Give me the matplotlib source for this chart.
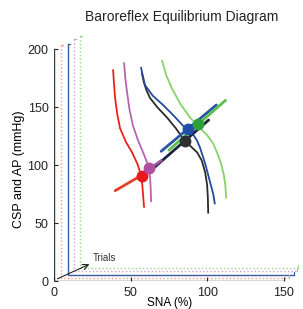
import matplotlib; matplotlib.use('Agg')
import numpy as np
import matplotlib.pyplot as plt

plt.rcParams['font.family'] = ['Liberation Sans', 'DejaVu Sans']

# trial order: black, red, blue, pink, green
trial_colors = ['#2b2b2b', '#e8231e', '#234a9c', '#b865b0', '#86d46a']
frame_styles = ['-', ':', '-', ':', ':']
frame_colors = ['#3a3a3a', '#f0a080', '#3a5aa0', '#d0a0d0', '#9ad888']
frame_dx = [0, 4.6, 9.2, 13.1, 17.0]
frame_dy = [0, 2.6, 5.2, 8.6, 11.2]
frame_top = [200, 203.4, 205, 208.6, 211.2]
frame_right = [150, 153.3, 156.5, 158.5, 159.5]

# baroreflex curves (SNA, CSP)
red_x = [38.6, 39.2, 39.9, 41.2, 43.1, 47.0, 51.0, 54.5, 56.2, 57.6, 58.2, 58.8]
red_y = [182, 170, 158, 145, 132, 120, 111, 101, 94, 84, 74, 64]
pink_x = [45.8, 46.5, 47.7, 49.3, 51.6, 55.0, 58.2, 60.6, 62.1, 62.8, 63.2, 63.4]
pink_y = [188, 176, 163, 148, 134, 121, 111, 103, 96, 88, 78, 69]
black_x = [57.5, 58.6, 60.3, 62.7, 67.5, 73.9, 79.5, 84.3, 89.5, 93.5, 96.5, 98.7, 100.0, 100.5, 100.7]
black_y = [179, 172, 165, 158, 150, 141, 132, 123, 116, 111, 104, 94, 83, 71, 59]
blue_x = [56.9, 58.0, 59.5, 64.5, 71.2, 78.0, 84.3, 90.2, 93.5, 95.4, 98.8, 102.0, 104.0, 105.0]
blue_y = [184, 177, 169, 160, 152, 143, 134, 128, 121, 115, 101, 85, 75, 67]
green_x = [70.6, 73.5, 77.1, 82.5, 88.9, 94.5, 100.0, 103.8, 106.5, 109.2, 111.0, 112.0, 112.4]
green_y = [190, 177, 166, 153, 141, 133, 126, 119, 111, 101, 91, 81, 72]

# equilibrium points
eq_x = [85.6, 57.3, 87.8, 62.1, 93.9]
eq_y = [120.7, 90.8, 131.0, 97.2, 135.3]

# peripheral (SNA -> AP) lines: start and end
line_x0 = [62.0, 40.0, 70.0, 55.0, 75.0]
line_y0 = [94.0, 78.0, 112.0, 90.0, 113.0]
line_x1 = [101.0, 62.0, 106.0, 70.0, 112.0]
line_y1 = [139.0, 95.0, 152.0, 104.0, 156.0]

curves_x = [black_x, red_x, blue_x, pink_x, green_x]
curves_y = [black_y, red_y, blue_y, pink_y, green_y]
line_colors = ['#1c2540', '#e0402a', '#2a55a8', '#a05aa0', '#5cc048']
point_colors = ['#2e2e33', '#e41a1c', '#1f4ea8', '#b0509e', '#2e9e3a']

fig = plt.figure(figsize=(3.03, 3.09), dpi=100)
ax = fig.add_axes([54 / 303, 28 / 309, 245 / 303, 249 / 309])
ax.set_xlim(0, 160)
ax.set_ylim(0, 215)
for s in ['top', 'right', 'left', 'bottom']:
    ax.spines[s].set_visible(False)
ax.set_xticks([0, 50, 100, 150])
ax.set_yticks([0, 50, 100, 150, 200])
ax.tick_params(direction='in', length=3, labelsize=9, colors='#222222', pad=4)

# stacked frames, back to front
for i in range(4, -1, -1):
    dx, dy = frame_dx[i], frame_dy[i]
    ax.plot([dx, dx, frame_right[i]], [frame_top[i], dy, dy],
            color=frame_colors[i], ls=frame_styles[i], lw=1.0, zorder=1 + (4 - i) * 0.1)
    ax.plot([dx, dx + 1.5], [frame_top[i], frame_top[i]], color=frame_colors[i], lw=0.8)
    ax.plot([frame_right[i], frame_right[i]], [dy, dy + 2.5], color=frame_colors[i], lw=0.8)

ax.annotate('', xy=(24.8, 15.5), xytext=(0.6, 0.9),
            arrowprops=dict(arrowstyle='->', color='#222222', lw=0.8))
ax.text(25.5, 17.5, 'Trials', fontsize=7, color='#333333')

for i in range(5):
    ax.plot(curves_x[i], curves_y[i], color=trial_colors[i], lw=1.3, zorder=3)
for i in range(5):
    ax.plot([line_x0[i], line_x1[i]], [line_y0[i], line_y1[i]],
            color=line_colors[i], lw=2.0, zorder=4, solid_capstyle='round')
for i in range(5):
    ax.plot(eq_x[i], eq_y[i], 'o', color=point_colors[i], ms=7.5, zorder=5)

ax.set_xlabel('SNA (%)', fontsize=8.5)
ax.xaxis.set_label_coords(0.47, -0.066)
ax.set_ylabel('CSP and AP (mmHg)', fontsize=9)
ax.yaxis.set_label_coords(-0.12, 0.45)
fig.text(0.6, 0.945, 'Baroreflex Equilibrium Diagram', fontsize=10, ha='center', va='center',
         color='#222222')

fig.savefig('out.png', dpi=100)
